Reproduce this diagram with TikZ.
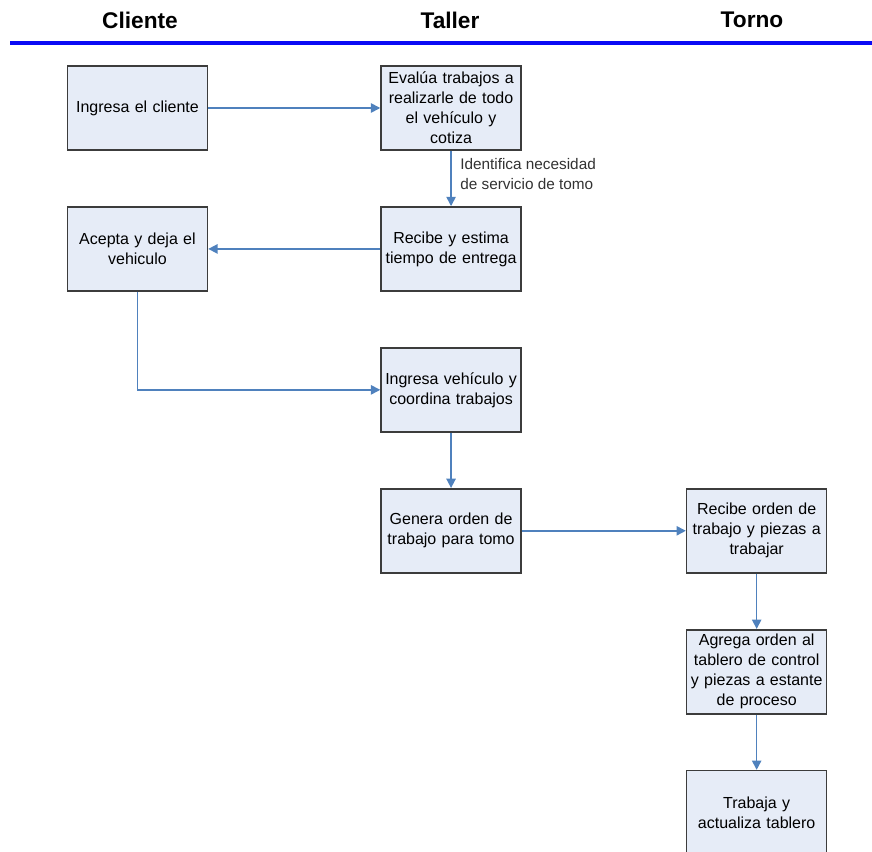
\documentclass[tikz,border=0pt]{standalone}
\usepackage{fontspec}
\setmainfont{Liberation Sans}
\usetikzlibrary{positioning, arrows.meta}
\definecolor{boxfill}{RGB}{230,236,247}
\definecolor{boxline}{RGB}{60,60,60}
\definecolor{flowline}{RGB}{79,129,189}
\definecolor{laneline}{RGB}{10,10,245}
\definecolor{notetext}{RGB}{50,50,50}

\begin{document}
\begin{tikzpicture}[node distance=41.5pt and 129pt, auto,
	every node/.style={font=\fontsize{12}{15}\selectfont},
	proc/.style={draw=boxline, line width=1.2pt, fill=boxfill, minimum width=105pt, minimum height=63pt, text width=100pt, inner sep=1pt, align=center},
	lane/.style={font=\fontsize{17}{20}\selectfont\bfseries},
	flow/.style={draw=flowline, line width=1.2pt, -{Triangle[length=7pt,width=7pt]}}]
			\useasboundingbox (0,0) rectangle (654pt,-639pt);
			% carriles
			\node[lane] (hcliente) at (105pt,-15pt) {Cliente};
			\node[lane] (htaller) at (337.5pt,-15pt) {Taller};
			\node[lane] (htorno) at (564pt,-15pt) {Torno};
			\draw[laneline, line width=3pt] (7.5pt,-32.3pt) -- (654pt,-32.3pt);
			% pasos
			\node[proc] (cliente) at (103.1pt,-81pt) {Ingresa el cliente};
			\node[proc,right=of cliente] (evalua) {Evalúa trabajos a\\realizarle de todo\\el vehículo y\\cotiza};
			\node[proc,below=of evalua] (estima) {Recibe y estima\\tiempo de entrega};
			\node[proc,left=of estima] (acepta) {Acepta y deja el\\vehiculo};
			\node[proc,below=of estima] (ingresa) {Ingresa vehículo y\\coordina trabajos};
			\node[proc,below=of ingresa] (genera) {Genera orden de\\trabajo para tomo};
			\node[proc,right=123pt of genera] (orden) {Recibe orden de\\trabajo y piezas a\\trabajar};
			\node[proc,below=of orden] (agrega) {Agrega orden al\\tablero de control\\y piezas a estante\\de proceso};
			\node[proc,below=of agrega] (trabaja) {Trabaja y\\actualiza tablero};
			% flujo
			\draw[flow] (cliente) -- (evalua);
			\draw[flow] (evalua) -- (estima) node[midway,right,xshift=3pt,yshift=3pt,align=left,text=notetext,font=\fontsize{11.5}{15}\selectfont]{Identifica necesidad\\de servicio de tomo};
			\draw[flow] (estima) -- (acepta);
			\draw[flow] (acepta.south) |- (ingresa.west);
			\draw[flow] (ingresa) -- (genera);
			\draw[flow] (genera) -- (orden);
			\draw[flow] (orden) -- (agrega);
			\draw[flow] (agrega) -- (trabaja);
		\end{tikzpicture}
\end{document}
